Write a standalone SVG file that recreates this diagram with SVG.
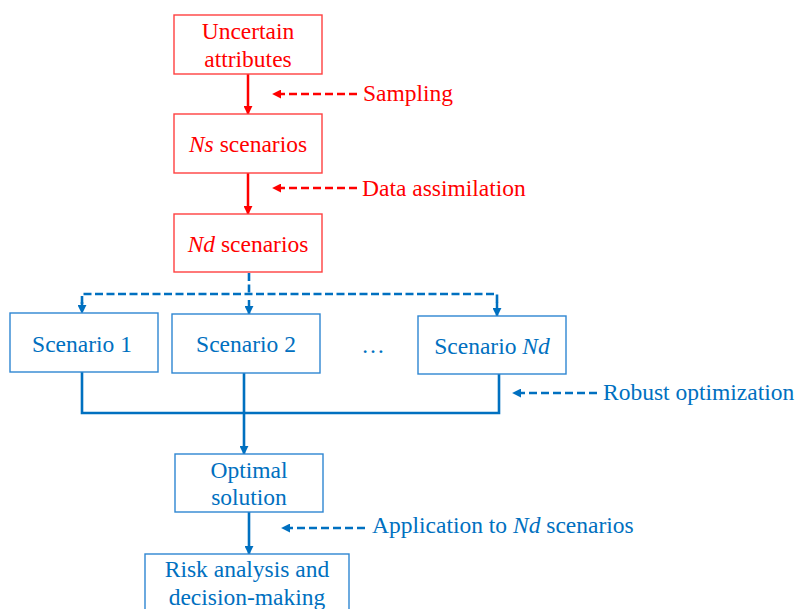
<svg xmlns="http://www.w3.org/2000/svg" width="796" height="609" viewBox="0 0 796 609">
  <defs>
    <style>
      .txt { font-family: "Liberation Serif", "Times New Roman", serif; font-size: 23.5px; }
      .red { fill: #FF0000; }
      .blue { fill: #0070C0; }
      .boxr { fill: #FFFFFF; stroke: #FF4040; stroke-width: 1.4; }
      .boxb { fill: #FFFFFF; stroke: #2E86D2; stroke-width: 1.4; }
      .lr { fill: none; stroke: #FF0000; stroke-width: 2.5; }
      .lb { fill: none; stroke: #0070C0; stroke-width: 2.6; }
      .dr { fill: none; stroke: #FF0000; stroke-width: 2.5; stroke-dasharray: 8 4; }
      .db { fill: none; stroke: #0070C0; stroke-width: 2.5; stroke-dasharray: 8 4; }
      .dbc { fill: none; stroke: #0070C0; stroke-width: 2.6; stroke-dasharray: 8 3.5; }
      .it { font-style: italic; }
    </style>
    <marker id="ahRed" viewBox="0 0 10 10" refX="9" refY="5" markerWidth="9" markerHeight="9" markerUnits="userSpaceOnUse" orient="auto">
      <path d="M0,0 L10,5 L0,10 z" fill="#FF0000"/>
    </marker>
    <marker id="ahBlue" viewBox="0 0 10 10" refX="9" refY="5" markerWidth="9" markerHeight="9" markerUnits="userSpaceOnUse" orient="auto">
      <path d="M0,0 L10,5 L0,10 z" fill="#0070C0"/>
    </marker>
  </defs>

  <rect width="796" height="609" fill="#FFFFFF"/>

  <!-- connectors -->
  <g id="connectors">
    <!-- red flow -->
    <path class="lr" d="M248,74 V114" marker-end="url(#ahRed)"/>
    <path class="lr" d="M248,173 V214" marker-end="url(#ahRed)"/>
    <!-- red annotation arrows -->
    <path class="dr" d="M357,94 H273" marker-end="url(#ahRed)"/>
    <path class="dr" d="M357,188 H273" marker-end="url(#ahRed)"/>
    <!-- branching into scenarios -->
    <path class="dbc" d="M249,273 V294"/>
    <path class="dbc" d="M82,304 V294 H497 V304"/>
    <path class="db" d="M82,302 V313" marker-end="url(#ahBlue)"/>
    <path class="db" d="M249,300 V314" marker-end="url(#ahBlue)"/>
    <path class="db" d="M497,302 V316" marker-end="url(#ahBlue)"/>
    <!-- merging into optimal solution -->
    <path class="lb" d="M82,372 V413 H499 V374"/>
    <path class="lb" d="M244,373 V454" marker-end="url(#ahBlue)"/>
    <path class="lb" d="M249,512 V554" marker-end="url(#ahBlue)"/>
    <!-- blue annotation arrows -->
    <path class="db" d="M597,393 H513" marker-end="url(#ahBlue)"/>
    <path class="db" d="M365,528 H282" marker-end="url(#ahBlue)"/>
  </g>

  <!-- nodes -->
  <g id="uncertain">
    <rect class="boxr" x="174" y="15" width="148" height="59"/>
    <text class="txt red" x="248" y="39" text-anchor="middle">Uncertain</text>
    <text class="txt red" x="248" y="67" text-anchor="middle">attributes</text>
  </g>
  <g id="ns-scenarios">
    <rect class="boxr" x="174" y="114" width="148" height="59"/>
    <text class="txt red" x="248" y="152" text-anchor="middle"><tspan class="it">Ns</tspan> scenarios</text>
  </g>
  <g id="nd-scenarios">
    <rect class="boxr" x="174" y="214" width="148" height="58"/>
    <text class="txt red" x="248" y="252" text-anchor="middle"><tspan class="it">Nd</tspan> scenarios</text>
  </g>

  <g id="scenario-1">
    <rect class="boxb" x="10" y="313" width="148" height="59"/>
    <text class="txt blue" x="82" y="352" text-anchor="middle">Scenario 1</text>
  </g>
  <g id="scenario-2">
    <rect class="boxb" x="172" y="314" width="148" height="59"/>
    <text class="txt blue" x="246" y="352" text-anchor="middle">Scenario 2</text>
  </g>
  <g id="ellipsis">
    <text class="txt blue" x="373" y="353" text-anchor="middle">…</text>
  </g>
  <g id="scenario-nd">
    <rect class="boxb" x="418" y="316" width="148" height="58"/>
    <text class="txt blue" x="492" y="354" text-anchor="middle">Scenario <tspan class="it">Nd</tspan></text>
  </g>

  <g id="optimal-solution">
    <rect class="boxb" x="175" y="454" width="148" height="58"/>
    <text class="txt blue" x="249" y="478" text-anchor="middle">Optimal</text>
    <text class="txt blue" x="249" y="505" text-anchor="middle">solution</text>
  </g>
  <g id="risk-analysis">
    <rect class="boxb" x="145" y="554" width="204" height="70"/>
    <text class="txt blue" x="247" y="577" text-anchor="middle">Risk analysis and</text>
    <text class="txt blue" x="247" y="605" text-anchor="middle">decision-making</text>
  </g>

  <!-- annotation labels -->
  <g id="labels">
    <text class="txt red" x="363" y="101">Sampling</text>
    <text class="txt red" x="362" y="196">Data assimilation</text>
    <text class="txt blue" x="603" y="400">Robust optimization</text>
    <text class="txt blue" x="372" y="533">Application to <tspan class="it">Nd</tspan> scenarios</text>
  </g>
</svg>
